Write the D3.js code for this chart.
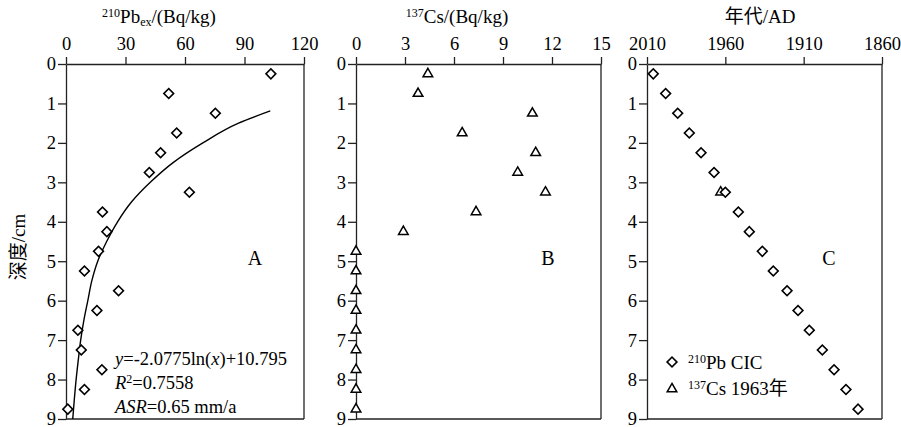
<!DOCTYPE html>
<html>
<head>
<meta charset="utf-8">
<script src="https://cdn.jsdelivr.net/npm/d3@7"></script>
<style>
  body { margin: 0; background: #fff; }
  svg { display: block; }
  text { font-family: "Liberation Serif", "Times New Roman", "Noto Sans CJK SC", serif; fill: #000; }
</style>
</head>
<body>
<div id="chart-area"></div>
<script>
// depth of each sample (cm)
var depths = [0.25, 0.75, 1.25, 1.75, 2.25, 2.75, 3.25, 3.75, 4.25,
              4.75, 5.25, 5.75, 6.25, 6.75, 7.25, 7.75, 8.25, 8.75];

// panel A - excess 210Pb (Bq/kg)
var pbEx = [103.3, 51.8, 75.3, 55.8, 47.7, 42.0, 62.2, 18.4, 20.6,
            16.4, 9.3, 26.5, 15.6, 6.0, 7.7, 18.1, 9.3, 0.9];

// fitted curve
var fitDepth = [1.19, 1.5, 2, 2.5, 3, 3.5, 4, 4.5, 5, 5.5, 6, 6.5, 7, 7.5, 8, 8.5, 9];
var fitPb = [103, 87, 69, 54, 42.5, 33, 26, 20.5, 16, 13, 11, 9, 7.4, 6.2, 5.1, 4.2, 3.4];

// panel B - 137Cs (Bq/kg)
var cs137 = [4.4, 3.8, 10.8, 6.5, 11.0, 9.9, 11.6, 7.35, 2.9,
             0, 0, 0, 0, 0, 0, 0, 0, 0];

// panel C - CIC ages (AD)
var cicYear = [2006, 1998.1, 1990.4, 1983, 1975.5, 1967.2, 1960, 1951.7, 1944.7,
               1936.4, 1929.4, 1920.6, 1913.6, 1906.4, 1898.1, 1890.6, 1883, 1875.3];
var csMarker = {depth: 3.25, year: 1963};

var depthTicks = [0, 1, 2, 3, 4, 5, 6, 7, 8, 9];
var pbTicks = [0, 30, 60, 90, 120];
var csTicks = [0, 3, 6, 9, 12, 15];
var yearTicks = [2010, 1960, 1910, 1860];

var serif = "Liberation Serif, Times New Roman, serif";

var svg = d3.select("#chart-area")
  .append("svg")
    .attr("width", 901)
    .attr("height", 427);

var y = d3.scaleLinear().domain([0, 9]).range([64, 419]);

var xA = d3.scaleLinear().domain([0, 120]).range([66, 304]);
var xB = d3.scaleLinear().domain([0, 15]).range([356, 601]);
var xC = d3.scaleLinear().domain([2010, 1860]).range([647, 882]);

var diamond = d3.symbol().type(d3.symbolSquare).size(48);
var triangle = d3.symbol().type(d3.symbolTriangle).size(40);

function styleAxis(g) {
  g.attr("font-family", null).attr("font-size", null);
  g.selectAll("path, line").attr("stroke", "#222").attr("stroke-width", 1.3);
  g.selectAll("text")
    .attr("font-family", serif)
    .attr("font-size", "18.5px")
    .style("font-family", serif)
    .attr("fill", "#000");
}

//draw the frame + axes for one panel
function frame(x, ticks) {
  var x0 = x.range()[0], x1 = x.range()[1];
  var g = svg.append("g");

  g.append("g")
    .attr("transform", "translate(0," + y(0) + ")")
    .call(d3.axisTop(x).tickValues(ticks).tickSize(7).tickSizeOuter(0).tickPadding(7)
      .tickFormat(d3.format("d")))
    .call(styleAxis);

  g.append("g")
    .attr("transform", "translate(" + x0 + ",0)")
    .call(d3.axisLeft(y).tickValues(depthTicks).tickSize(8).tickSizeOuter(0).tickPadding(2))
    .call(styleAxis);

  g.append("line")
    .attr("x1", x1).attr("x2", x1)
    .attr("y1", y(0)).attr("y2", y(9))
    .attr("stroke", "#222").attr("stroke-width", 1.3);
  g.append("line")
    .attr("x1", x0).attr("x2", x1)
    .attr("y1", y(9)).attr("y2", y(9))
    .attr("stroke", "#222").attr("stroke-width", 1.3);
  return g;
}

frame(xA, pbTicks);
frame(xB, csTicks);
frame(xC, yearTicks);

//titles
var tA = svg.append("text").attr("x", 159).attr("y", 23).attr("text-anchor", "middle").attr("font-size", "19px");
tA.append("tspan").attr("font-size", "12px").attr("dy", "-6").text("210");
tA.append("tspan").attr("dy", "6").text("Pb");
tA.append("tspan").attr("font-size", "12px").attr("dy", "3").text("ex");
tA.append("tspan").attr("dy", "-3").text("/(Bq/kg)");

var tB = svg.append("text").attr("x", 457).attr("y", 23).attr("text-anchor", "middle").attr("font-size", "19px");
tB.append("tspan").attr("font-size", "12px").attr("dy", "-6").text("137");
tB.append("tspan").attr("dy", "6").text("Cs/(Bq/kg)");

svg.append("text").attr("x", 760).attr("y", 23).attr("text-anchor", "middle")
  .attr("font-size", "19px").text("年代/AD");

svg.append("text")
  .attr("transform", "translate(25,247) rotate(-90)")
  .attr("text-anchor", "middle")
  .attr("font-size", "19px")
  .text("深度/cm");

//panel letters
[["A", 255], ["B", 548], ["C", 829]].forEach(function(p){
  svg.append("text").attr("x", p[1]).attr("y", 265).attr("text-anchor", "middle")
    .attr("font-size", "20px").text(p[0]);
});

//panel A fit curve
var fitLine = d3.line()
  .x(function(d){ return xA(d[0]); })
  .y(function(d){ return y(d[1]); })
  .curve(d3.curveMonotoneY);

svg.append("path")
  .datum(fitPb.map(function(v, i){ return [v, fitDepth[i]]; }))
  .attr("d", fitLine)
  .attr("fill", "none")
  .attr("stroke", "#000")
  .attr("stroke-width", 1.4);

//panel A points
svg.selectAll(".pb")
  .data(pbEx)
  .enter().append("path")
    .attr("class", "pb")
    .attr("d", diamond)
    .attr("transform", function(d, i){ return "translate(" + xA(d) + "," + y(depths[i]) + ") rotate(45)"; })
    .attr("fill", "#fff").attr("stroke", "#000").attr("stroke-width", 1.6);

//panel A equation
var eq = svg.append("g").attr("font-size", "18.5px");
var e1 = eq.append("text").attr("x", 115).attr("y", 365);
e1.append("tspan").attr("font-style", "italic").text("y");
e1.append("tspan").text("=-2.0775ln(");
e1.append("tspan").attr("font-style", "italic").text("x");
e1.append("tspan").text(")+10.795");
var e2 = eq.append("text").attr("x", 115).attr("y", 389);
e2.append("tspan").attr("font-style", "italic").text("R");
e2.append("tspan").attr("font-size", "12px").attr("dy", "-6").text("2");
e2.append("tspan").attr("dy", "6").text("=0.7558");
var e3 = eq.append("text").attr("x", 115).attr("y", 413);
e3.append("tspan").attr("font-style", "italic").text("ASR");
e3.append("tspan").text("=0.65 mm/a");

//panel B points
svg.selectAll(".cs")
  .data(cs137)
  .enter().append("path")
    .attr("class", "cs")
    .attr("d", triangle)
    .attr("transform", function(d, i){ return "translate(" + xB(d) + "," + y(depths[i]) + ")"; })
    .attr("fill", "#fff").attr("stroke", "#000").attr("stroke-width", 1.5);

//panel C points
svg.append("path")
  .attr("d", triangle)
  .attr("transform", "translate(" + xC(csMarker.year) + "," + y(csMarker.depth) + ")")
  .attr("fill", "#fff").attr("stroke", "#000").attr("stroke-width", 1.5);

svg.selectAll(".cic")
  .data(cicYear)
  .enter().append("path")
    .attr("class", "cic")
    .attr("d", diamond)
    .attr("transform", function(d, i){ return "translate(" + xC(d) + "," + y(depths[i]) + ") rotate(45)"; })
    .attr("fill", "#fff").attr("stroke", "#000").attr("stroke-width", 1.6);

//legend
var legend = svg.append("g").attr("font-size", "19px");
legend.append("path").attr("d", diamond)
  .attr("transform", "translate(672,362) rotate(45)")
  .attr("fill", "#fff").attr("stroke", "#000").attr("stroke-width", 1.6);
var l1 = legend.append("text").attr("x", 688).attr("y", 369);
l1.append("tspan").attr("font-size", "12px").attr("dy", "-6").text("210");
l1.append("tspan").attr("dy", "6").text("Pb CIC");

legend.append("path").attr("d", triangle)
  .attr("transform", "translate(672,389)")
  .attr("fill", "#fff").attr("stroke", "#000").attr("stroke-width", 1.5);
var l2 = legend.append("text").attr("x", 688).attr("y", 395);
l2.append("tspan").attr("font-size", "12px").attr("dy", "-6").text("137");
l2.append("tspan").attr("dy", "6").text("Cs 1963年");
</script>
</body>
</html>
